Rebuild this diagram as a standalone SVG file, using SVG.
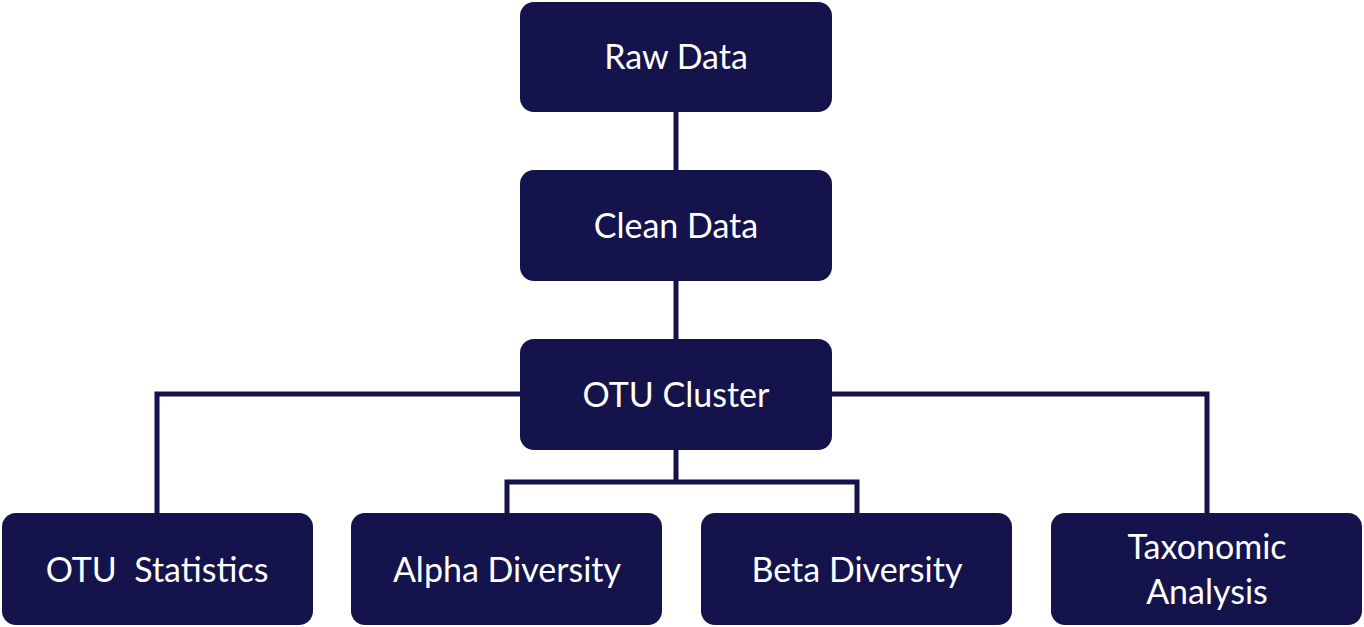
<svg xmlns="http://www.w3.org/2000/svg" width="1364" height="627" viewBox="0 0 1364 627">
<style>
.n{fill:#15134b}
.t{fill:#fff;font-family:Lato,"Open Sans",sans-serif;font-size:34px;text-anchor:middle}
.c{stroke:#15134b;stroke-width:5;fill:none}
</style>
<rect width="1364" height="627" fill="#fff"/>
<g id="connectors">
<path class="c" d="M676 112V170M676 281V339M520 394H157V513M832 394H1207V513M676 450V482H507V513M676 482H857V513"/>
</g>
<g id="raw"><rect class="n" x="520" y="2" width="312" height="110" rx="14"/><text class="t" x="676" y="69">Raw Data</text></g>
<g id="clean"><rect class="n" x="520" y="170" width="312" height="111" rx="14"/><text class="t" x="676" y="238">Clean Data</text></g>
<g id="otu"><rect class="n" x="520" y="339" width="312" height="111" rx="14"/><text class="t" x="676" y="407">OTU Cluster</text></g>
<g id="stats"><rect class="n" x="2" y="513" width="311" height="112" rx="14"/><text class="t" x="157" y="582" xml:space="preserve">OTU  Statistics</text></g>
<g id="alpha"><rect class="n" x="351" y="513" width="311" height="112" rx="14"/><text class="t" x="507" y="582">Alpha Diversity</text></g>
<g id="beta"><rect class="n" x="701" y="513" width="311" height="112" rx="14"/><text class="t" x="857" y="582">Beta Diversity</text></g>
<g id="taxo"><rect class="n" x="1051" y="513" width="311" height="112" rx="14"/><text class="t" x="1207" y="559">Taxonomic</text><text class="t" x="1207" y="604">Analysis</text></g>
</svg>
